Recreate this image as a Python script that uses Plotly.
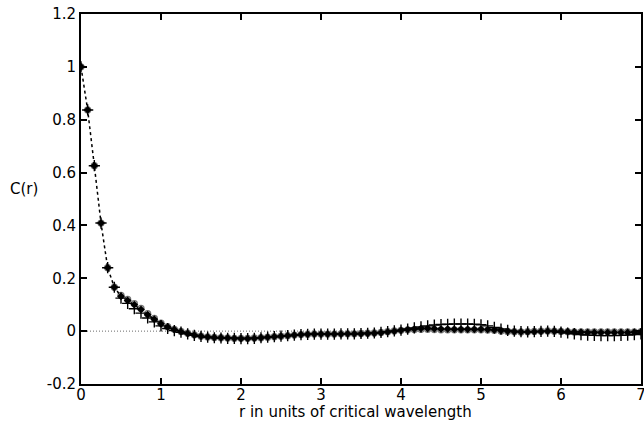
import plotly.graph_objects as go

# Radial grid: r = 0 .. 7 in steps of 1/12 critical wavelength
r = [k / 12 for k in range(85)]

# Correlation function C(r) for three runs
c_run1 = [
    1.000, 0.837, 0.626, 0.409, 0.240, 0.166, 0.132, 0.116, 0.100, 0.082,
    0.062, 0.045, 0.028, 0.016, 0.006, -0.002, -0.009, -0.015, -0.019, -0.022,
    -0.024, -0.025, -0.026, -0.027, -0.028, -0.028, -0.027, -0.025, -0.023, -0.021,
    -0.019, -0.017, -0.015, -0.013, -0.012, -0.011, -0.011, -0.011, -0.011, -0.011,
    -0.010, -0.010, -0.010, -0.009, -0.008, -0.006, -0.003, 0.000, 0.003, 0.006,
    0.008, 0.010, 0.010, 0.009, 0.008, 0.008, 0.007, 0.007, 0.007, 0.007,
    0.007, 0.006, 0.004, 0.002, 0.000, -0.002, -0.003, -0.003, -0.002, -0.001,
    0.000, 0.000, -0.001, -0.002, -0.003, -0.004, -0.005, -0.005, -0.005, -0.005,
    -0.005, -0.005, -0.005, -0.004, -0.003,
]
c_run2 = [
    1.000, 0.837, 0.626, 0.409, 0.240, 0.166, 0.125, 0.105, 0.085, 0.068,
    0.050, 0.035, 0.020, 0.010, 0.002, -0.004, -0.010, -0.016, -0.020, -0.023,
    -0.025, -0.026, -0.027, -0.027, -0.028, -0.028, -0.027, -0.025, -0.023, -0.021,
    -0.019, -0.017, -0.015, -0.013, -0.012, -0.011, -0.011, -0.011, -0.011, -0.010,
    -0.010, -0.010, -0.009, -0.008, -0.007, -0.005, -0.002, 0.001, 0.004, 0.008,
    0.012, 0.016, 0.020, 0.023, 0.025, 0.026, 0.027, 0.027, 0.027, 0.026,
    0.024, 0.020, 0.014, 0.008, 0.003, 0.000, -0.002, -0.003, -0.002, -0.001,
    0.000, -0.001, -0.004, -0.007, -0.010, -0.013, -0.015, -0.016, -0.017, -0.017,
    -0.017, -0.016, -0.015, -0.013, -0.010,
]
c_run3 = [
    1.000, 0.837, 0.626, 0.409, 0.240, 0.166, 0.135, 0.120, 0.104, 0.086,
    0.066, 0.048, 0.030, 0.017, 0.007, -0.001, -0.008, -0.014, -0.019, -0.022,
    -0.024, -0.025, -0.026, -0.027, -0.027, -0.027, -0.026, -0.025, -0.023, -0.021,
    -0.019, -0.017, -0.015, -0.013, -0.012, -0.011, -0.011, -0.011, -0.011, -0.010,
    -0.010, -0.010, -0.009, -0.008, -0.007, -0.005, -0.002, 0.001, 0.003, 0.005,
    0.006, 0.007, 0.007, 0.006, 0.005, 0.005, 0.005, 0.005, 0.005, 0.005,
    0.005, 0.004, 0.003, 0.001, -0.001, -0.002, -0.003, -0.002, -0.001, 0.000,
    0.001, 0.000, -0.001, -0.002, -0.003, -0.003, -0.003, -0.003, -0.003, -0.003,
    -0.003, -0.003, -0.003, -0.003, -0.002,
]

font = "DejaVu Sans, Liberation Sans, Arial, sans-serif"
fsize = 15

fig = go.Figure()

# dotted zero reference line
fig.add_trace(go.Scatter(
    x=[r[0], r[-1]], y=[0, 0], mode="lines",
    line=dict(color="#444444", width=0.8, dash="1px,2px"),
    hoverinfo="skip", showlegend=False,
))

fig.add_trace(go.Scatter(
    x=r, y=c_run3, mode="markers",
    marker=dict(symbol="circle-open", size=6, color="#777777", line=dict(width=1.3)),
    showlegend=False,
))
fig.add_trace(go.Scatter(
    x=r, y=c_run2, mode="markers",
    marker=dict(symbol="cross-thin-open", size=8, color="black", line=dict(width=1.4)),
    showlegend=False,
))
fig.add_trace(go.Scatter(
    x=r, y=c_run1, mode="lines+markers",
    line=dict(color="black", width=1.5, dash="3px,3px"),
    marker=dict(symbol="diamond", size=6, color="black"),
    showlegend=False,
))

axis_common = dict(
    showline=True, linecolor="black", linewidth=2, mirror="ticks",
    ticks="inside", ticklen=6, tickwidth=1.5, tickcolor="black",
    showgrid=False, zeroline=False, automargin=False,
    tickfont=dict(family=font, size=fsize, color="black"),
)

fig.update_xaxes(
    range=[0, 7], tickvals=[0, 1, 2, 3, 4, 5, 6, 7],
    ticklabelstandoff=-4, ticklabeloverflow="allow",
    **axis_common,
)
fig.update_yaxes(
    range=[-0.2, 1.2], tickvals=[-0.2, 0, 0.2, 0.4, 0.6, 0.8, 1, 1.2],
    ticktext=["-0.2", "0", "0.2", "0.4", "0.6", "0.8", "1", "1.2"],
    **axis_common,
)

# axis titles
fig.add_annotation(
    text="r in units of critical wavelength", xref="paper", yref="paper",
    x=0.49, y=-0.076, showarrow=False, xanchor="center", yanchor="middle",
    font=dict(family=font, size=fsize, color="black"),
)
fig.add_annotation(
    text="C(r)", xref="paper", yref="paper",
    x=-0.102, y=0.526, showarrow=False, xanchor="center", yanchor="middle",
    font=dict(family=font, size=fsize, color="black"),
)

fig.update_layout(
    width=644, height=424,
    margin=dict(l=81, r=3, t=14, b=40),
    paper_bgcolor="white", plot_bgcolor="white",
    font=dict(family=font, size=fsize, color="black"),
)

fig.write_html("out.html")
